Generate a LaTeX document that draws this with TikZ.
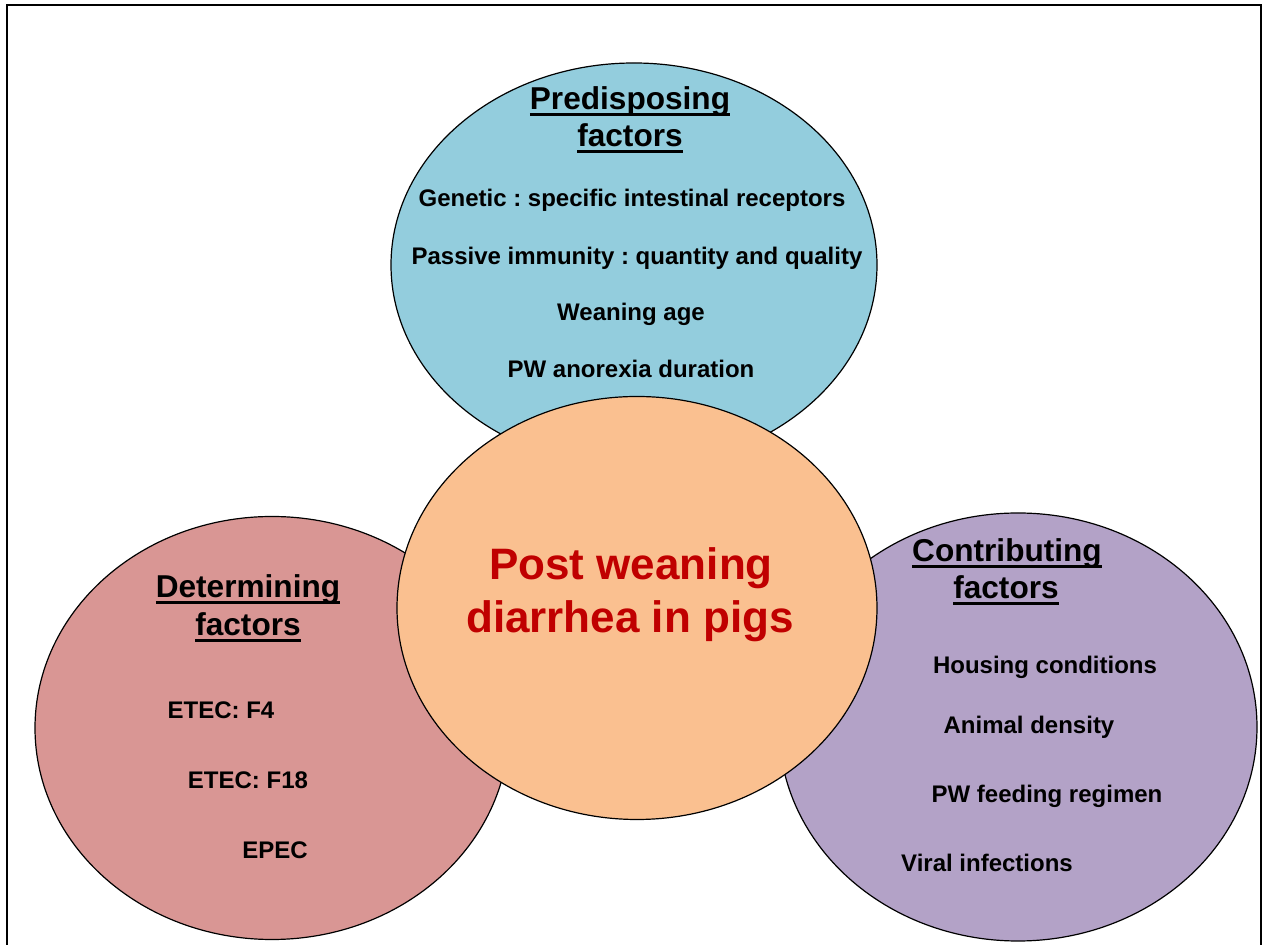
\documentclass[tikz,border=0pt]{standalone}
\usepackage{fontspec}
\setmainfont{Liberation Sans}
\usetikzlibrary{shapes.geometric}
\frenchspacing

\definecolor{preblue}{HTML}{93CDDD}
\definecolor{detred}{HTML}{D99694}
\definecolor{conpurple}{HTML}{B3A2C7}
\definecolor{pwdorange}{HTML}{FAC090}
\definecolor{titlered}{HTML}{C00000}

\newcommand{\headline}[1]{\setbox0\hbox{#1}\rlap{\rule[-0.18em]{\wd0}{0.09em}}\box0}

\tikzset{
    blob/.style={ellipse, draw=black, line width=0.6pt, inner sep=0pt},
    head/.style={anchor=base, font=\fontsize{15.8}{18.5}\selectfont\bfseries},
    item/.style={anchor=base, font=\fontsize{12}{14}\selectfont\bfseries},
    title/.style={anchor=base, text=titlered, font=\fontsize{22}{26}\selectfont\bfseries}
}

\begin{document}
\begin{tikzpicture}[x=0.5pt, y=-0.5pt]
        \useasboundingbox (0, 0) rectangle (1266, 945);
        \clip (0, 0) rectangle (1266, 945);
        \draw[line width=1.3pt] (7, 5) rectangle (1261, 990);

        \node[blob, fill=preblue, minimum width=243pt, minimum height=202pt] (pre) at (634, 265) {};
        \node[blob, fill=detred, minimum width=237pt, minimum height=211.5pt] (det) at (272, 728) {};
        \node[blob, fill=conpurple, minimum width=239pt, minimum height=214pt] (con) at (1018, 727) {};
        \node[blob, fill=pwdorange, minimum width=240pt, minimum height=211.5pt] (pwd) at (637, 608) {};

        \node[head] (pre-h1) at (630, 110) {\headline{Predisposing}};
        \node[head] (pre-h2) at (630, 147) {\headline{factors}};
        \node[item] (pre-1) at (632, 207) {Genetic : specific intestinal receptors};
        \node[item] (pre-2) at (637, 265) {Passive immunity : quantity and quality};
        \node[item] (pre-3) at (631, 321) {Weaning age};
        \node[item] (pre-4) at (631, 378) {PW anorexia duration};

        \node[head] (det-h1) at (248, 598) {\headline{Determining}};
        \node[head] (det-h2) at (248, 636) {\headline{factors}};
        \node[item] (det-1) at (221, 719) {ETEC: F4};
        \node[item] (det-2) at (248, 789) {ETEC: F18};
        \node[item] (det-3) at (275, 859) {EPEC};

        \node[head] (con-h1) at (1007, 562) {\headline{Contributing}};
        \node[head] (con-h2) at (1006, 599) {\headline{factors}};
        \node[item] (con-1) at (1045, 674) {Housing conditions};
        \node[item] (con-2) at (1029, 734) {Animal density};
        \node[item] (con-3) at (1047, 803) {PW feeding regimen};
        \node[item] (con-4) at (987, 872) {Viral infections};

        \node[title] (pwd-1) at (631, 580) {Post weaning};
        \node[title] (pwd-2) at (630, 633) {diarrhea in pigs};

    \end{tikzpicture}
\end{document}
